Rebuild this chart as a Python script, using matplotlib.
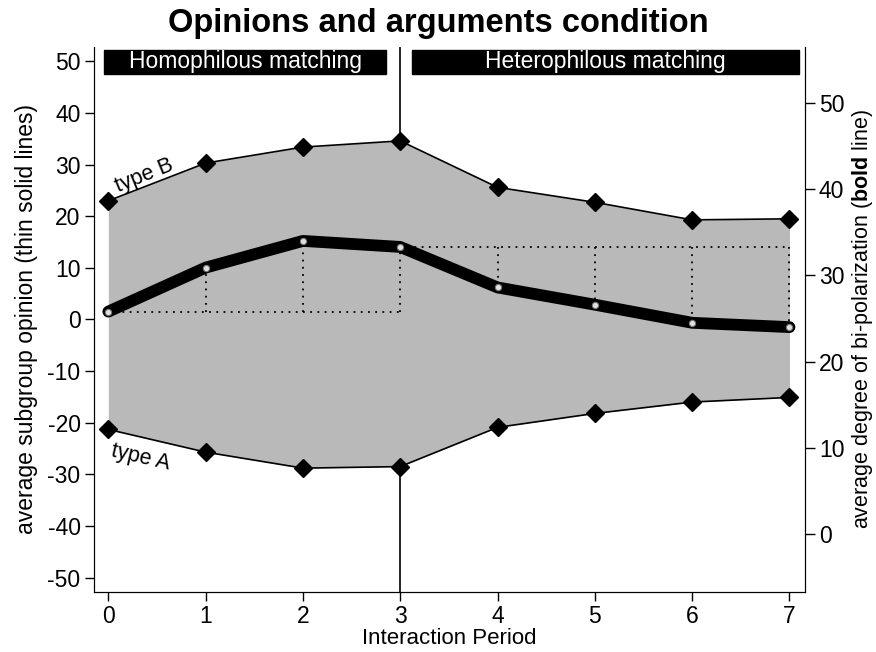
import numpy as np
import matplotlib
matplotlib.use("Agg")
import matplotlib.pyplot as plt
from matplotlib.patches import Rectangle

plt.rcParams['font.family'] = ['Liberation Sans', 'DejaVu Sans']
plt.rcParams['mathtext.fontset'] = 'custom'
plt.rcParams['mathtext.rm'] = 'Liberation Sans'
plt.rcParams['mathtext.bf'] = 'Liberation Sans:bold'
plt.rcParams['axes.unicode_minus'] = False

# data
periods = [0, 1, 2, 3, 4, 5, 6, 7]
type_b = [23.0, 30.3, 33.4, 34.6, 25.6, 22.7, 19.3, 19.5]
type_a = [-21.3, -25.7, -28.8, -28.5, -20.9, -18.2, -16.0, -15.1]
polarization = [25.8, 30.9, 34.0, 33.3, 28.6, 26.6, 24.5, 24.0]

switch_period = 3
phase_labels = ["Homophilous matching", "Heterophilous matching"]

x = np.array(periods)
bp = np.array(polarization)

fig = plt.figure(figsize=(8.76, 6.52), dpi=100)
ax = fig.add_axes([0.107, 0.092, 0.812, 0.836])

# grey band between the two subgroups
ax.axvline(switch_period, color='black', lw=1.2, zorder=1)
ax.fill_between(x, type_a, type_b, color='#b9b9b9', lw=0, zorder=2)
ax.plot(x, type_b, color='black', lw=1.2, marker='D', ms=9.5, zorder=3)
ax.plot(x, type_a, color='black', lw=1.2, marker='D', ms=9.5, zorder=3)

ax.text(0.37, 27.8, "type B", rotation=22, fontsize=15.5, ha='center', va='center')
ax.text(0.33, -26.8, "type A", rotation=-13, fontsize=15.5, ha='center', va='center')

ax.set_xlim(-0.15, 7.16)
ax.set_ylim(-52.8, 52.8)
ax.set_yticks(np.arange(-50, 51, 10))
ax.set_xticks(periods)
ax.spines['top'].set_visible(False)
ax.tick_params(labelsize=16.5, length=6.5, width=1, pad=3)
ax.set_xlabel("Interaction Period", fontsize=16, labelpad=0)
ax.set_ylabel("average subgroup opinion (thin solid lines)", fontsize=16.5, labelpad=7)

# phase header boxes
phase_spans = [(-0.04, switch_period - 0.15), (switch_period + 0.12, 7.1)]
for lab, (x0, x1) in zip(phase_labels, phase_spans):
    ax.add_patch(Rectangle((x0, 47.6), x1 - x0, 4.7, color='black',
                           clip_on=False, zorder=5))
    ax.text((x0 + x1) / 2, 49.9, lab, color='white', fontsize=16.5,
            ha='center', va='center', zorder=6)

# bi-polarization on the right axis
ax2 = ax.twinx()
ax2.set_ylim(-6.73, 56.5)
ax2.set_yticks(np.arange(0, 51, 10))
ax2.spines['top'].set_visible(False)
ax2.tick_params(labelsize=16.5, length=7, width=1, pad=3)
ax2.set_ylabel(r"average degree of bi-polarization ($\mathbf{bold}$ line)",
               fontsize=15.5, labelpad=4)

dot = dict(color='black', lw=1.3, ls=(0, (1, 3)), zorder=2)
s = switch_period
ax2.plot([x[0], x[s]], [bp[0], bp[0]], **dot)
ax2.plot([x[s], x[-1]], [bp[s], bp[s]], **dot)
for i in range(1, s + 1):
    ax2.plot([x[i], x[i]], [bp[0], bp[i]], **dot)
for i in range(s + 1, len(x)):
    ax2.plot([x[i], x[i]], [bp[s], bp[i]], **dot)

ax2.plot(x, bp, color='black', lw=8.5, solid_capstyle='round', zorder=3)
ax2.plot(x, bp, ls='none', marker='o', ms=4.5, mfc='#e0e0e0', mec='#777777',
         mew=0.8, zorder=4)

fig.text(0.5, 0.964, "Opinions and arguments condition", fontsize=23.5,
         fontweight='bold', ha='center', va='center')

fig.savefig("out.png", dpi=100)
